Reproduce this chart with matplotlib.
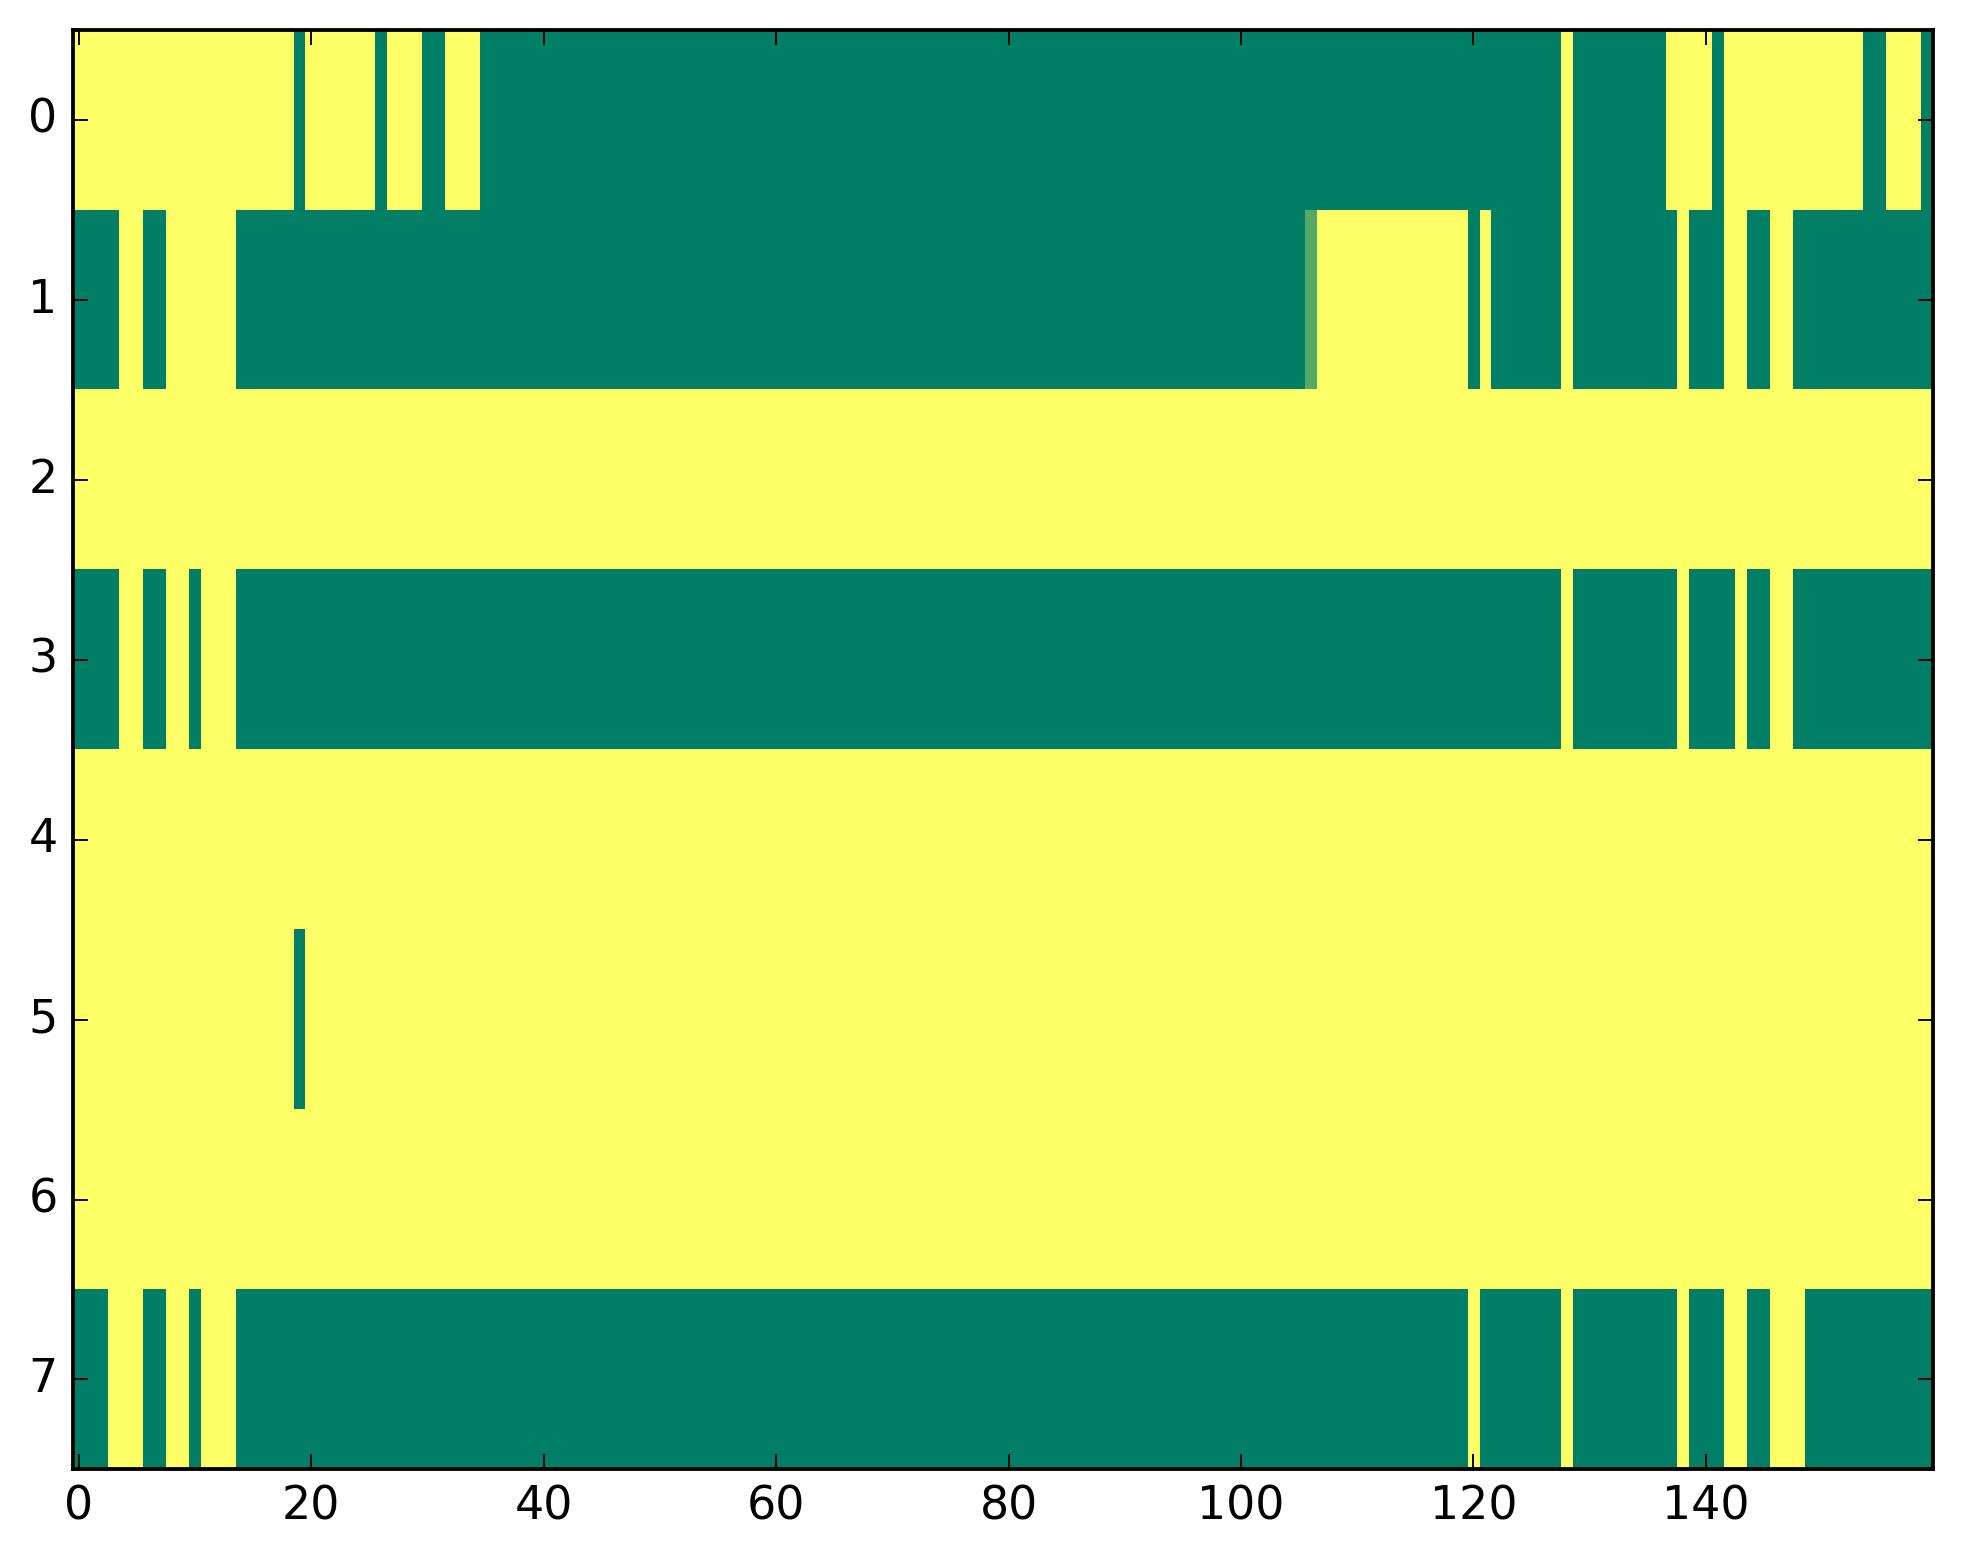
import numpy as np
import matplotlib
matplotlib.use("Agg")
import matplotlib.pyplot as plt

plt.style.use("classic")

# each row of the matrix as (value, run length) pairs, read left to right
row0 = [(1, 19), (0, 1), (1, 6), (0, 1), (1, 3), (0, 2), (1, 3), (0, 93),
        (1, 1), (0, 8), (1, 4), (0, 1), (1, 12), (0, 2), (1, 3), (0, 1)]
row1 = [(0, 4), (1, 2), (0, 2), (1, 6), (0, 92), (0.33, 1), (1, 13), (0, 1),
        (1, 1), (0, 6), (1, 1), (0, 9), (1, 1), (0, 3), (1, 2), (0, 2),
        (1, 2), (0, 12)]
row2 = [(1, 160)]
row3 = [(0, 4), (1, 2), (0, 2), (1, 2), (0, 1), (1, 3), (0, 114), (1, 1),
        (0, 9), (1, 1), (0, 4), (1, 1), (0, 2), (1, 2), (0, 12)]
row4 = [(1, 160)]
row5 = [(1, 19), (0, 1), (1, 140)]
row6 = [(1, 160)]
row7 = [(0, 3), (1, 3), (0, 2), (1, 2), (0, 1), (1, 3), (0, 106), (1, 1),
        (0, 7), (1, 1), (0, 9), (1, 1), (0, 3), (1, 2), (0, 2), (1, 3),
        (0, 11)]

rows = [row0, row1, row2, row3, row4, row5, row6, row7]


def decode(runs):
    vals = [v for v, n in runs]
    lens = [n for v, n in runs]
    return np.repeat(vals, lens)


matrix = np.array([decode(r) for r in rows])

fig = plt.figure(figsize=(1963 / 275.0, 1564 / 275.0), facecolor="white")
ax = fig.add_subplot(111)
ax.imshow(matrix, cmap="summer", vmin=0, vmax=1, aspect="auto",
          interpolation="nearest")
ax.set_xticks(np.arange(0, 160, 20))
ax.set_yticks(np.arange(0, 8, 1))
ax.set_xlim(-0.5, 159.5)
ax.set_ylim(7.5, -0.5)

fig.subplots_adjust(left=0.0371, right=0.9845, top=0.9805, bottom=0.0605)
fig.savefig("out.png", dpi=275, facecolor="white")
